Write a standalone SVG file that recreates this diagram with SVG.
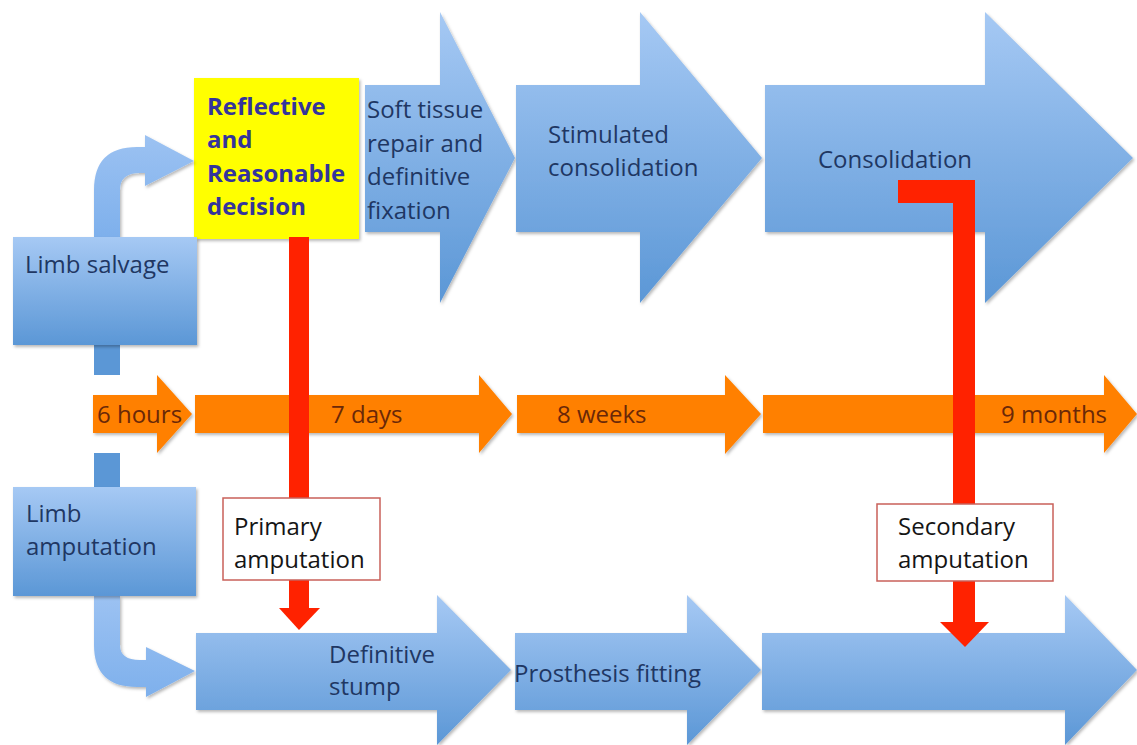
<svg xmlns="http://www.w3.org/2000/svg" width="1137" height="745" viewBox="0 0 1137 745">
<defs>
<linearGradient id="blue" x1="0" y1="0" x2="0" y2="1">
<stop offset="0" stop-color="#a6c9f4"/>
<stop offset="1" stop-color="#5b97d6"/>
</linearGradient>
<linearGradient id="bentg" x1="0" y1="0" x2="0" y2="1">
<stop offset="0" stop-color="#9cc2f2"/>
<stop offset="1" stop-color="#7eb0ec"/>
</linearGradient>
<filter id="sh" x="-10%" y="-10%" width="120%" height="120%">
<feDropShadow dx="1.5" dy="2" stdDeviation="1.8" flood-color="#000" flood-opacity="0.28"/>
</filter>
</defs>
<style>
.blue{fill:url(#blue);filter:url(#sh);}
.bent{fill:url(#bentg);filter:url(#sh);}
.stem{fill:#5b97d6;}
.orange{fill:#ff8000;filter:url(#sh);}
.red{fill:#ff2200;}
.lbl{fill:#ffffff;stroke:#c9605a;stroke-width:1.5;}
text{font-family:"Open Sans","Noto Sans",sans-serif;font-size:24px;}
.t{fill:#1f3763;}
.tb{fill:#34349c;font-weight:bold;}
.to{fill:#6a2808;}
.tk{fill:#151515;}
</style>
<rect width="1137" height="745" fill="#ffffff"/>

<g id="node-soft-tissue">
<path class="blue" d="M365,85 H440 V12 L515,158 L440,303 V232 H365 Z"/>
<text class="t" x="367" y="118">Soft tissue</text>
<text class="t" x="367" y="151.5">repair and</text>
<text class="t" x="367" y="185">definitive</text>
<text class="t" x="367" y="218.5">fixation</text>
</g>
<g id="node-stimulated">
<path class="blue" d="M516,85 H640 V12 L762,158 L640,303 V232 H516 Z"/>
<text class="t" x="548" y="143">Stimulated</text>
<text class="t" x="548" y="176">consolidation</text>
</g>
<g id="node-consolidation">
<path class="blue" d="M765,85 H985 V12 L1133,158 L985,303 V232 H765 Z"/>
<text class="t" x="818" y="168">Consolidation</text>
</g>

<g id="node-decision">
<rect x="194" y="78" width="165" height="161" fill="#ffff00" filter="url(#sh)"/>
<text class="tb" x="207" y="115">Reflective</text>
<text class="tb" x="207" y="148">and</text>
<text class="tb" x="207" y="182">Reasonable</text>
<text class="tb" x="207" y="215">decision</text>
</g>

<g id="connectors">
<path class="bent" d="M94,237 V190 Q94,147 137,147 H145 V135 L194,161 L145,186 V173 H140 Q120,173 120,190 V237 Z"/>
<path class="bent" d="M94,596 V645 Q94,687 137,687 H146 V697 L195,671 L146,647 V660 H140 Q120,660 120,645 V596 Z"/>
<rect class="stem" x="94" y="345" width="26" height="30"/>
<rect class="stem" x="94" y="453" width="26" height="34"/>
</g>

<g id="node-limb-salvage">
<rect class="blue" x="13" y="237" width="184" height="108"/>
<text class="t" x="25" y="273">Limb salvage</text>
</g>
<g id="node-limb-amputation">
<rect class="blue" x="13" y="487" width="183" height="109"/>
<text class="t" x="26" y="522">Limb</text>
<text class="t" x="26" y="555">amputation</text>
</g>

<g id="node-6-hours">
<path class="orange" d="M93,395 H157 V375 L192,414 L157,453 V433 H93 Z"/>
<text class="to" x="97" y="423">6 hours</text>
</g>
<g id="node-7-days">
<path class="orange" d="M195,395 H479 V375 L512,414 L479,453 V433 H195 Z"/>
<text class="to" x="331" y="423">7 days</text>
</g>
<g id="node-8-weeks">
<path class="orange" d="M517,395 H725 V375 L761,414 L725,454 V433 H517 Z"/>
<text class="to" x="557" y="423">8 weeks</text>
</g>
<g id="node-9-months">
<path class="orange" d="M763,395 H1104 V375 L1137,414 L1104,453 V433 H763 Z"/>
<text class="to" x="1001" y="423">9 months</text>
</g>

<g id="node-definitive-stump">
<path class="blue" d="M196,633 H437 V595 L511,670 L437,745 V710 H196 Z"/>
<text class="t" x="329" y="663">Definitive</text>
<text class="t" x="329" y="695">stump</text>
</g>
<g id="node-prosthesis">
<path class="blue" d="M515,633 H687 V595 L761,670 L687,745 V710 H515 Z"/>
<text class="t" x="514" y="682">Prosthesis fitting</text>
</g>
<g id="node-final">
<path class="blue" d="M762,633 H1065 V595 L1137,670 L1065,745 V710 H762 Z"/>
</g>

<g id="connectors-red">
<rect class="red" x="289" y="237" width="20" height="372"/>
<path class="red" d="M279,608 L320,608 L299,630 Z"/>
<path class="red" d="M898,180 H975 V623 H953 V203 H898 Z"/>
<path class="red" d="M940,622 L989,622 L965,647 Z"/>
</g>

<g id="node-primary-amputation">
<rect class="lbl" x="223" y="498" width="157" height="82"/>
<text class="tk" x="234" y="535">Primary</text>
<text class="tk" x="234" y="568">amputation</text>
</g>
<g id="node-secondary-amputation">
<rect class="lbl" x="877" y="504" width="176" height="77"/>
<text class="tk" x="898" y="535">Secondary</text>
<text class="tk" x="898" y="568">amputation</text>
</g>
</svg>
